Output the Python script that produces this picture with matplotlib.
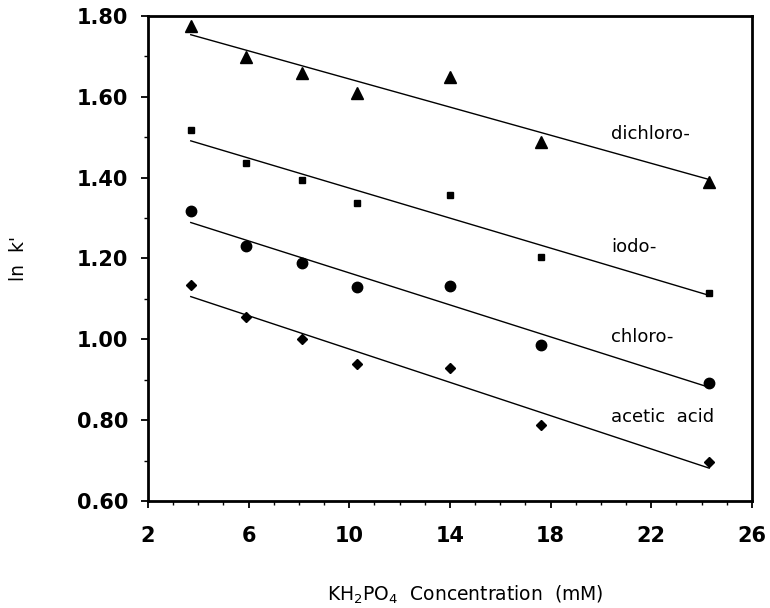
import numpy as np
import matplotlib
matplotlib.use("Agg")
import matplotlib.pyplot as plt
from matplotlib.ticker import MultipleLocator, FixedLocator

# KH2PO4 concentration (mM)
conc = [3.7, 5.9, 8.1, 10.3, 14.0, 17.6, 24.3]

# ln k' for each solute
dichloro = [1.775, 1.698, 1.658, 1.609, 1.650, 1.487, 1.390]
iodo = [1.517, 1.437, 1.393, 1.338, 1.358, 1.204, 1.114]
chloro = [1.318, 1.231, 1.189, 1.129, 1.132, 0.985, 0.891]
acetic = [1.134, 1.055, 1.002, 0.938, 0.930, 0.789, 0.697]

series_names = ["dichloro-", "iodo-", "chloro-", "acetic  acid"]
label_y = [1.507, 1.229, 1.005, 0.809]
x_ticks = [2, 6, 10, 14, 18, 22, 26]
x_tick_labels = ["2", "6", "10", "14", "18", "22", "26"]
y_ticks = [0.60, 0.80, 1.00, 1.20, 1.40, 1.60, 1.80]
y_tick_labels = ["0.60", "0.80", "1.00", "1.20", "1.40", "1.60", "1.80"]

plt.rcParams["font.family"] = ["DejaVu Sans"]
plt.rcParams["mathtext.fontset"] = "dejavusans"

fig = plt.figure(figsize=(7.7, 6.08), dpi=100)
ax = fig.add_axes([0.1922, 0.176, 0.7844, 0.7977])

styles = [
    dict(marker="^", ms=8.5),
    dict(marker="s", ms=5.0),
    dict(marker="o", ms=7.5),
    dict(marker="D", ms=5.5),
]

x = np.array(conc)
for ys, st in zip([dichloro, iodo, chloro, acetic], styles):
    y = np.array(ys)
    ax.plot(x, y, linestyle="none", color="black", mec="black", **st)
    slope, icpt = np.polyfit(x, y, 1)
    xx = np.array([x.min(), x.max()])
    ax.plot(xx, slope * xx + icpt, color="black", lw=1.0)

for name, ly in zip(series_names, label_y):
    ax.text(20.4, ly, name, fontsize=13, va="center", ha="left")

ax.set_xlim(2, 26)
ax.set_ylim(0.60, 1.80)
ax.xaxis.set_major_locator(FixedLocator(x_ticks))
ax.set_xticklabels(x_tick_labels)
ax.xaxis.set_minor_locator(MultipleLocator(1))
ax.yaxis.set_major_locator(FixedLocator(y_ticks))
ax.set_yticklabels(y_tick_labels)
ax.yaxis.set_minor_locator(MultipleLocator(0.1))

for lab in ax.get_xticklabels() + ax.get_yticklabels():
    lab.set_fontweight("bold")
    lab.set_fontsize(15)

ax.tick_params(which="major", direction="out", length=5, width=1.3)
ax.tick_params(which="minor", direction="out", length=3, width=1.0)
ax.tick_params(axis="x", which="major", pad=13)
ax.tick_params(axis="y", which="major", pad=9)
for sp in ax.spines.values():
    sp.set_linewidth(2.0)

ax.set_xlabel("KH$_2$PO$_4$  Concentration  (mM)", fontsize=13.5)
ax.xaxis.set_label_coords(0.525, -0.17)
ax.set_ylabel("ln  k'", fontsize=13.5)
ax.yaxis.set_label_coords(-0.199, 0.5)

fig.savefig("out.png", dpi=100)
